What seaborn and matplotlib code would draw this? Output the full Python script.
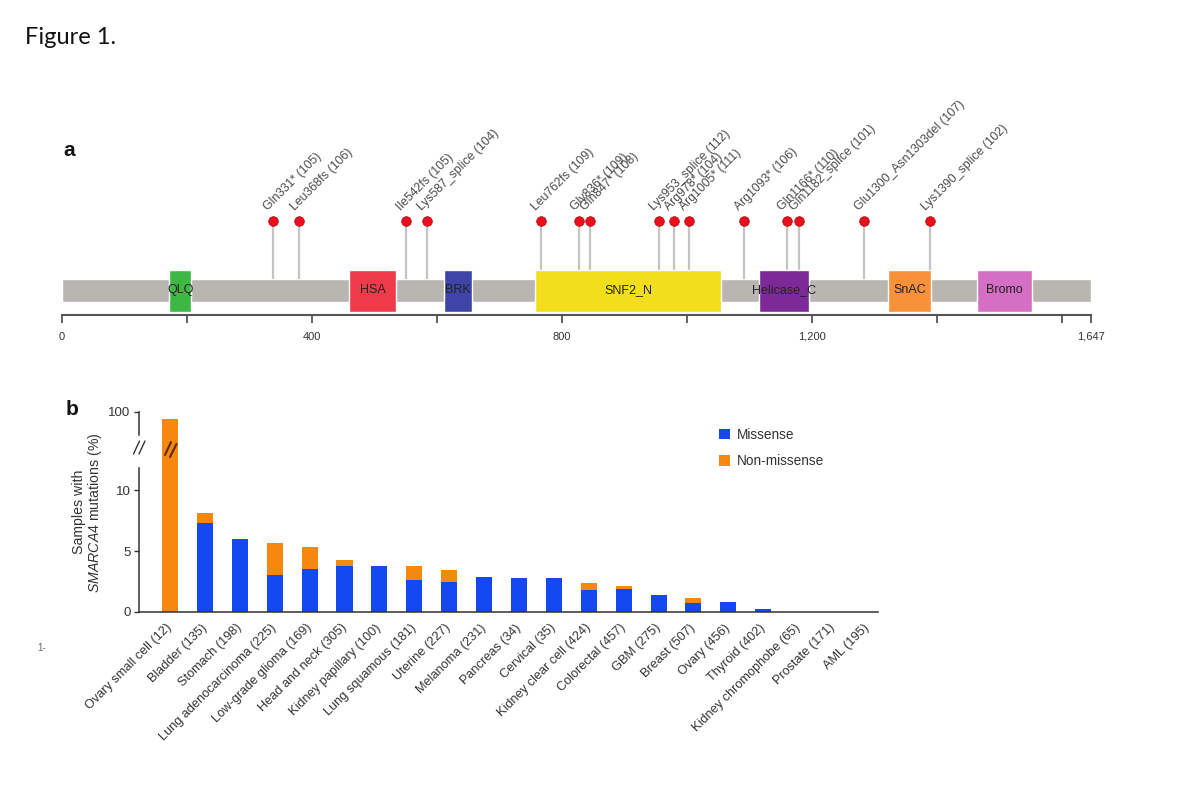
import matplotlib
matplotlib.use("Agg")
import matplotlib.pyplot as plt
import seaborn as sns
import pandas as pd
from matplotlib.lines import Line2D
from matplotlib.patches import Patch

sns.set_theme(style="white")
plt.rcParams['font.family'] = ['Liberation Sans', 'DejaVu Sans']
plt.rcParams['mathtext.fontset'] = 'custom'
plt.rcParams['mathtext.it'] = 'Liberation Sans:italic'
plt.rcParams['mathtext.rm'] = 'Liberation Sans'

# ---------------- Panel a data ----------------
protein_length = 1647
domain_names = ["QLQ", "HSA", "BRK", "SNF2_N", "Helicase_C", "SnAC", "Bromo"]
domain_starts = [171, 459, 611, 757, 1116, 1322, 1465]
domain_ends = [207, 535, 656, 1055, 1196, 1391, 1553]
domain_colors = ["#3db843", "#ef3a4a", "#3f45a8", "#f2de1c", "#7d2a98", "#f7923a", "#d46fc4"]

mutation_labels = ["Gln331* (105)", "Leu368fs (106)", "Ile542fs (105)", "Lys587_splice (104)",
                   "Leu762fs (109)", "Gly836* (109)", "Gln847* (108)", "Lys953_splice (112)",
                   "Arg978* (104)", "Arg1005* (111)", "Arg1093* (106)", "Gln1166* (110)",
                   "Gln1182_splice (101)", "Glu1300_Asn1303del (107)", "Lys1390_splice (102)"]
mutation_positions = [338, 380, 550, 584, 766, 828, 845, 955, 980, 1004, 1092, 1160, 1180, 1284, 1390]

axis_ticks = [0, 200, 400, 600, 800, 1000, 1200, 1400, 1600, 1647]
axis_tick_labels = ["0", "", "400", "", "800", "", "1,200", "", "", "1,647"]

# ---------------- Panel b data ----------------
cancer_types = ["Ovary small cell (12)", "Bladder (135)", "Stomach (198)", "Lung adenocarcinoma (225)",
                "Low-grade glioma (169)", "Head and neck (305)", "Kidney papillary (100)",
                "Lung squamous (181)", "Uterine (227)", "Melanoma (231)", "Pancreas (34)",
                "Cervical (35)", "Kidney clear cell (424)", "Colorectal (457)", "GBM (275)",
                "Breast (507)", "Ovary (456)", "Thyroid (402)", "Kidney chromophobe (65)",
                "Prostate (171)", "AML (195)"]
missense = [0, 7.3, 6.0, 3.0, 3.5, 3.8, 3.8, 2.65, 2.5, 2.9, 2.82, 2.82, 1.8, 1.85, 1.42,
            0.72, 0.85, 0.27, 0, 0, 0]
non_missense = [92, 0.8, 0, 2.65, 1.8, 0.45, 0, 1.15, 0.95, 0, 0, 0, 0.55, 0.3, 0,
                0.45, 0, 0, 0, 0, 0]

BLUE = "#1448f0"
ORANGE = "#f7870f"

W, H = 1200, 800
fig = plt.figure(figsize=(12, 8), dpi=100)

def fx(px):
    return px / W

def fy(py):
    return 1 - py / H

# ================= Panel a =================
axa = fig.add_axes([fx(62), fy(315), fx(1091) - fx(62), fy(90) - fy(315)])
axa.set_xlim(0, protein_length)
axa.set_ylim(0, 225)

# backbone
axa.broken_barh([(0, protein_length)], (13, 23.4), facecolors="#b9b6b1", zorder=1)
# domains
for name, s, e, c in zip(domain_names, domain_starts, domain_ends, domain_colors):
    axa.broken_barh([(s, e - s)], (3, 42), facecolors=c, zorder=2)
    axa.text((s + e) / 2, 25, name, ha="center", va="center", fontsize=9,
             color="#222222", zorder=3)

# lollipops
axa.vlines(mutation_positions, 36, 94, colors="#c4c4c4", linewidth=1.6, zorder=1)
sns.scatterplot(x=mutation_positions, y=[94] * len(mutation_positions), ax=axa,
                color="#e8101c", s=48, edgecolor="#b00010", linewidth=0.5, zorder=4,
                legend=False)
for lab, pos in zip(mutation_labels, mutation_positions):
    axa.annotate(lab, (pos, 94), xytext=(-2, 5.5), textcoords="offset points",
                 rotation=45, rotation_mode="anchor", ha="left", va="bottom",
                 fontsize=8.8, color="#4a4a4a")

axa.set_xticks(axis_ticks)
axa.set_xticklabels(axis_tick_labels)
axa.set_yticks([])
for side in ["left", "right", "top"]:
    axa.spines[side].set_visible(False)
axa.spines["bottom"].set_color("#555555")
axa.spines["bottom"].set_linewidth(1.5)
axa.tick_params(axis="x", direction="out", length=6, width=1.3, color="#555555",
                labelsize=8, labelcolor="#333333", pad=6, bottom=True)
axa.set_facecolor("none")

# ================= Panel b =================
df = pd.DataFrame({"type": cancer_types, "missense": missense,
                   "total": [m + n for m, n in zip(missense, non_missense)]})

bottom_px, mid_px, top_px = 612, 440, 405
left_px, right_px = 139, 878
px_per_unit = 12.17
axb = fig.add_axes([fx(left_px), fy(bottom_px), fx(right_px) - fx(left_px), fy(mid_px) - fy(bottom_px)])
axt = fig.add_axes([fx(left_px), fy(mid_px), fx(right_px) - fx(left_px), fy(top_px) - fy(mid_px)])

for ax in (axb, axt):
    sns.barplot(data=df, x="type", y="total", color=ORANGE, saturation=1, width=0.46,
                linewidth=0, errorbar=None, ax=ax, order=cancer_types)
    sns.barplot(data=df, x="type", y="missense", color=BLUE, saturation=1, width=0.46,
                linewidth=0, errorbar=None, ax=ax, order=cancer_types)
    ax.set_xlim(-0.89, 20.29)
    ax.set_facecolor("none")
    ax.set_ylabel("")
    ax.set_xlabel("")

axb.set_ylim(0, (bottom_px - mid_px) / px_per_unit)
top_scale = 0.875
axt.set_ylim(100 - (mid_px - 412) / top_scale, 100 + (412 - top_px) / top_scale)

# bottom axis styling
axb.set_yticks([0, 5, 10])
axb.set_yticklabels(["0", "5", "10"])
axb.spines["left"].set_bounds(0, 11.8)
for side in ["right", "top"]:
    axb.spines[side].set_visible(False)
for side in ["left", "bottom"]:
    axb.spines[side].set_color("#333333")
    axb.spines[side].set_linewidth(1.1)
axb.set_xticks(range(len(cancer_types)))
axb.set_xticklabels(cancer_types, rotation=45, ha="right", va="center",
                    rotation_mode="anchor", fontsize=9.2, color="#333333")
axb.tick_params(axis="x", length=0, pad=10)
axb.tick_params(axis="y", direction="out", length=3.5, width=1, color="#333333",
                labelsize=9.5, labelcolor="#333333", left=True, pad=2.5)

# top axis styling
axt.set_yticks([100])
axt.set_yticklabels(["100"])
axt.set_xticks([])
axt.spines["left"].set_bounds(74, 100)
axt.spines["left"].set_color("#333333")
axt.spines["left"].set_linewidth(1.1)
for side in ["right", "top", "bottom"]:
    axt.spines[side].set_visible(False)
axt.tick_params(axis="y", direction="out", length=3.5, width=1, color="#333333",
                labelsize=9.5, labelcolor="#333333", left=True, pad=2.5)

# y label
axb.set_ylabel("Samples with\n$\\it{SMARCA4}$ mutations (%)", fontsize=10.2,
               color="#333333", linespacing=1.05)
axb.yaxis.set_label_coords(-0.047, 0.58)

# break marks on axis and bar
def fig_line(x0, y0, x1, y1, color, lw):
    fig.add_artist(Line2D([fx(x0), fx(x1)], [fy(y0), fy(y1)], transform=fig.transFigure,
                          color=color, linewidth=lw))

fig_line(133.5, 454, 139.5, 441, "#333333", 1.0)
fig_line(139, 454, 145, 441, "#333333", 1.0)
fig_line(165, 455, 171, 442, "#5a2d00", 1.5)
fig_line(170, 457, 176.5, 444, "#5a2d00", 1.5)

# legend
handles = [Patch(facecolor=BLUE, edgecolor="none", label="Missense"),
           Patch(facecolor=ORANGE, edgecolor="none", label="Non-missense")]
fig.legend(handles=handles, loc="upper left", bbox_to_anchor=(fx(719), fy(428)),
           frameon=False, fontsize=9.8, handlelength=0.8, handleheight=0.8,
           handletextpad=0.5, labelspacing=0.9, borderaxespad=0, borderpad=0,
           labelcolor="#333333")

# titles / panel labels
fig.text(fx(25), fy(38), "Figure 1.", fontsize=17, family=["Lato", "DejaVu Sans"],
         va="center", ha="left", color="#111111")
fig.text(fx(63), fy(150), "a", fontsize=15, fontweight="bold", va="center", ha="left",
         color="#111111")
fig.text(fx(66), fy(410), "b", fontsize=15, fontweight="bold", va="center", ha="left",
         color="#111111")
fig.text(fx(37), fy(648), "1-", fontsize=7, va="center", ha="left", color="#666666")

fig.savefig("out.png", dpi=100)
